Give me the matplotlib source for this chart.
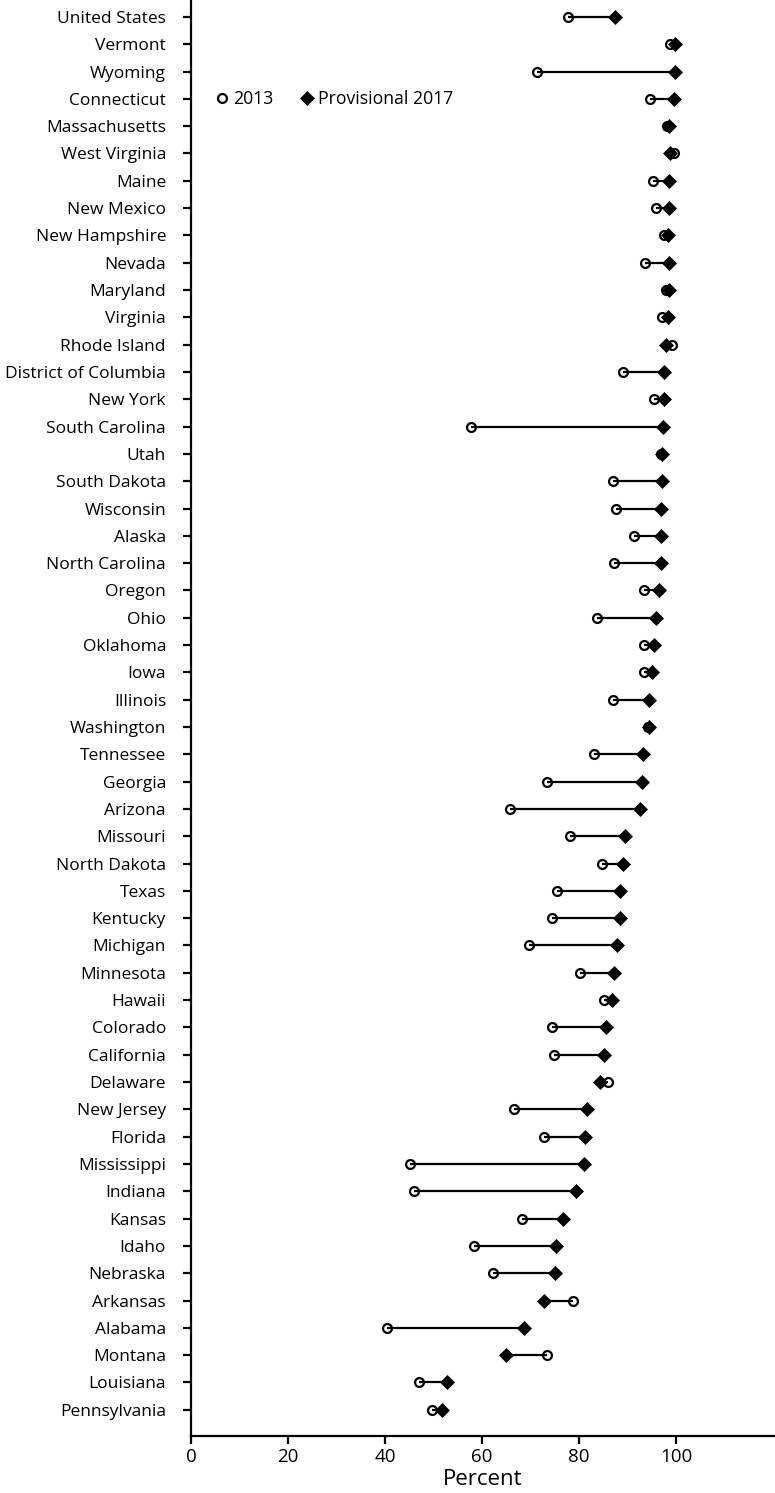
import matplotlib
matplotlib.use("Agg")
import matplotlib.pyplot as plt
from matplotlib.lines import Line2D

plt.rcParams['font.family'] = ['Open Sans', 'DejaVu Sans']

states = ["United States", "Vermont", "Wyoming", "Connecticut", "Massachusetts",
          "West Virginia", "Maine", "New Mexico", "New Hampshire", "Nevada",
          "Maryland", "Virginia", "Rhode Island", "District of Columbia", "New York",
          "South Carolina", "Utah", "South Dakota", "Wisconsin", "Alaska",
          "North Carolina", "Oregon", "Ohio", "Oklahoma", "Iowa", "Illinois",
          "Washington", "Tennessee", "Georgia", "Arizona", "Missouri",
          "North Dakota", "Texas", "Kentucky", "Michigan", "Minnesota", "Hawaii",
          "Colorado", "California", "Delaware", "New Jersey", "Florida",
          "Mississippi", "Indiana", "Kansas", "Idaho", "Nebraska", "Arkansas",
          "Alabama", "Montana", "Louisiana", "Pennsylvania"]

v2013 = [77.8, 98.8, 71.3, 94.6, 98.2, 99.5, 95.2, 95.8, 97.6, 93.7,
         97.9, 97.2, 99.2, 89.0, 95.5, 57.7, 96.9, 87.1, 87.6, 91.3,
         87.2, 93.4, 83.8, 93.4, 93.4, 87.1, 94.2, 83.1, 73.5, 65.8,
         78.1, 84.7, 75.5, 74.5, 69.6, 80.2, 85.2, 74.5, 74.8, 86.0,
         66.5, 72.7, 45.2, 46.0, 68.2, 58.4, 62.3, 78.7, 40.5, 73.5,
         47.0, 49.7]

v2017 = [87.4, 99.8, 99.8, 99.5, 98.6, 98.8, 98.6, 98.6, 98.3, 98.6,
         98.6, 98.3, 97.9, 97.6, 97.6, 97.3, 97.1, 97.2, 97.0, 97.0,
         97.0, 96.5, 95.9, 95.5, 95.0, 94.4, 94.5, 93.1, 92.9, 92.6,
         89.5, 89.0, 88.5, 88.5, 87.9, 87.2, 86.9, 85.6, 85.2, 84.3,
         81.7, 81.2, 81.0, 79.4, 76.8, 75.3, 75.1, 72.7, 68.7, 65.0,
         52.8, 51.8]

xticks = [0, 20, 40, 60, 80, 100]

fig = plt.figure(figsize=(7.75, 14.93), dpi=100)
ax = fig.add_axes([191/775, 57/1493, 583/775, 1436/1493])

ypos = list(range(len(states)))
ax.hlines(ypos, v2013, v2017, color='black', lw=1.6, zorder=1)
ax.plot(v2013, ypos, linestyle='none', marker='o', ms=6.4, mfc='none',
        mec='black', mew=1.6, zorder=3)
ax.plot(v2017, ypos, linestyle='none', marker='D', ms=7.0, mfc='black',
        mec='black', mew=0.5, zorder=2)

ax.set_xlim(0, 120.2)
ax.set_ylim(51.96, -0.62)
ax.set_yticks(ypos)
ax.set_yticklabels(states, fontsize=12.5)
ax.set_xticks(xticks)
ax.set_xticklabels([str(t) for t in xticks], fontsize=13.5)
ax.set_xlabel("Percent", fontsize=16, labelpad=2)

for s in ['top', 'right']:
    ax.spines[s].set_visible(False)
for s in ['left', 'bottom']:
    ax.spines[s].set_linewidth(1.6)
ax.tick_params(axis='both', length=6, width=1.6, color='black')
ax.tick_params(axis='y', pad=12)
ax.tick_params(axis='x', pad=3)

handles = [Line2D([], [], linestyle='none', marker='o', ms=6.4, mfc='none',
                  mec='black', mew=1.6),
           Line2D([], [], linestyle='none', marker='D', ms=7.0, mfc='black',
                  mec='black', mew=0.5)]
ax.legend(handles, ["2013", "Provisional 2017"], ncol=2, frameon=False,
          loc='center left', bbox_to_anchor=(215/775, 1 - 99/1493),
          bbox_transform=fig.transFigure, fontsize=12.7, borderpad=0,
          borderaxespad=0, handlelength=0.8, handletextpad=0.22,
          columnspacing=1.53)

fig.savefig("out.png", dpi=100)
